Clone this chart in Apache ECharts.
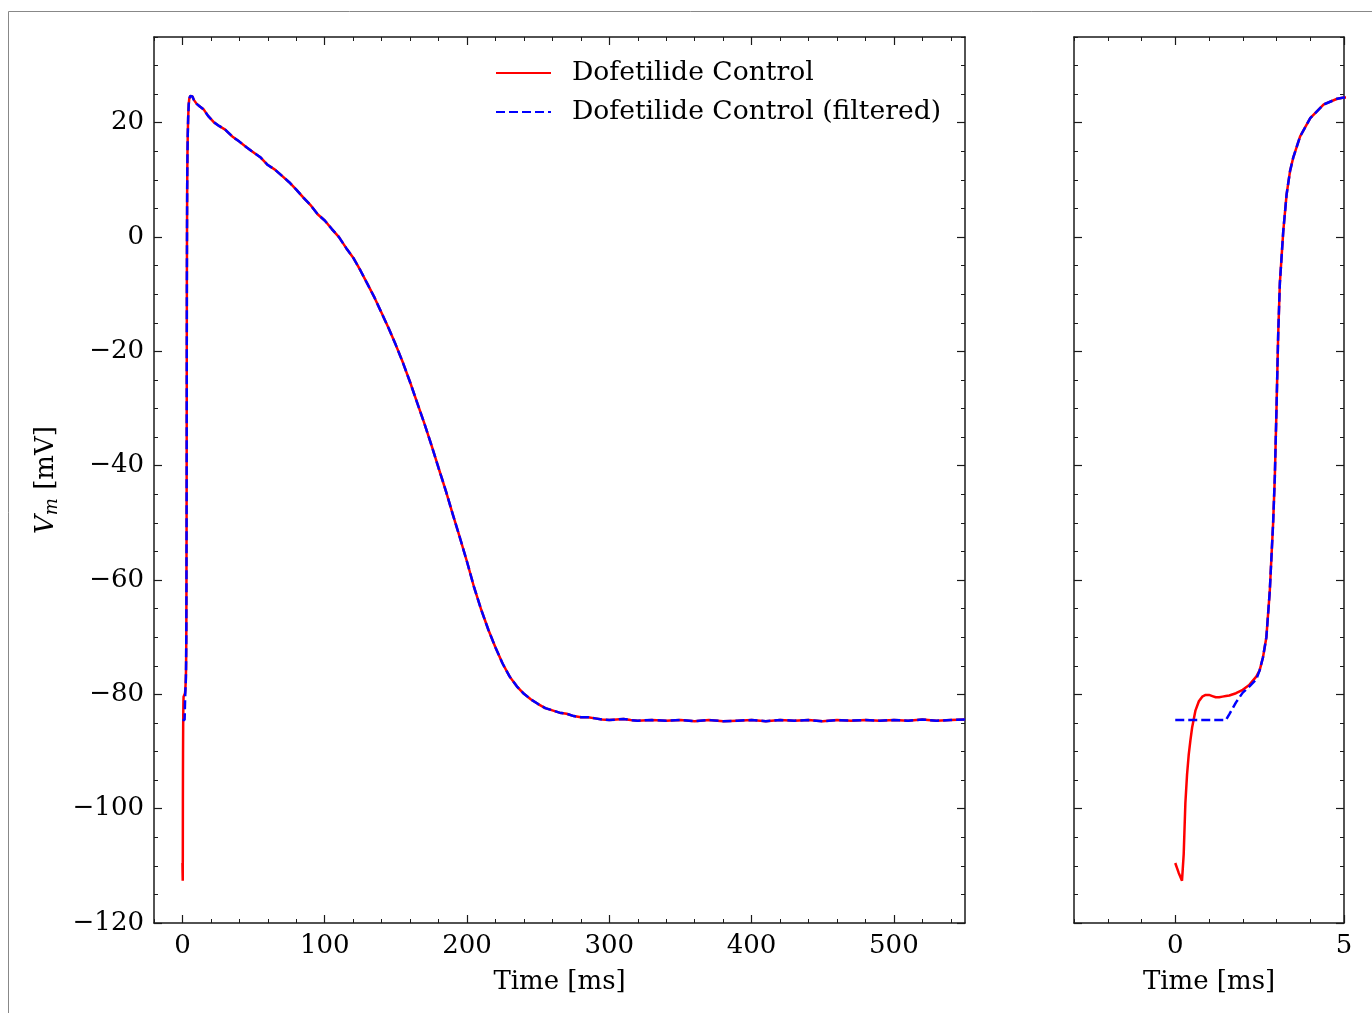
<!DOCTYPE html>
<html>
<head>
<meta charset="utf-8">
<script src="https://cdn.jsdelivr.net/npm/echarts@6/dist/echarts.min.js"></script>
<style>html,body{margin:0;padding:0;background:#fff}#c{width:1372px;height:1013px}</style>
</head>
<body>
<div id="c"></div>
<script>
// ---- data ----
const timeMs = [0,0.1,0.2,0.25,0.3,0.35,0.4,0.45,0.5,0.6,0.7,0.8,0.9,1.0,1.1,1.2,1.3,1.4,1.5,1.6,1.8,2.0,2.2,2.4,2.5,2.6,2.7,2.8,2.9,2.95,3.0,3.05,3.1,3.2,3.3,3.4,3.5,3.7,4.0,4.4,4.8,5.0,5.5,6.3,7,8,10,12,15,18,22,26,30,35,40,45,50,55,60,65,70,75,80,85,90,95,100,105,110,115,120,125,130,135,140,145,150,155,160,165,170,175,180,185,190,195,200,205,210,215,220,225,230,235,240,245,250,255,260,265,270,275,280,285,290,295,300,305,310,315,320,330,340,350,360,370,380,390,400,410,420,430,440,450,460,470,480,490,500,510,520,530,540,550];
const vmControl = [-109.5,-111.2,-112.6,-108,-99,-94,-90.5,-88,-85.8,-82.8,-81.2,-80.4,-80.1,-80.1,-80.3,-80.5,-80.5,-80.4,-80.3,-80.2,-79.8,-79.2,-78.3,-76.9,-75.8,-73.5,-70,-62,-50,-42,-30,-17,-8,1,7.5,11.5,14,17.6,20.8,23.2,24.2,24.4,24.7,24.9,24.6,24.0,23.3,22.9,22.3,21.2,20.1,19.4,18.8,17.6,16.7,15.7,14.8,13.9,12.6,11.8,10.7,9.6,8.3,6.9,5.6,4.0,2.9,1.4,0.0,-1.9,-3.6,-5.8,-8.2,-10.6,-13.3,-16.0,-18.9,-22.0,-25.4,-29.0,-32.6,-36.4,-40.4,-44.3,-48.5,-52.6,-56.8,-61.3,-65.2,-68.7,-71.8,-74.6,-76.9,-78.6,-79.9,-80.9,-81.7,-82.4,-82.8,-83.2,-83.4,-83.8,-84.0,-84.0,-84.2,-84.4,-84.5,-84.4,-84.3,-84.5,-84.6,-84.5,-84.6,-84.5,-84.7,-84.5,-84.7,-84.6,-84.5,-84.7,-84.5,-84.6,-84.5,-84.7,-84.5,-84.6,-84.5,-84.6,-84.5,-84.6,-84.4,-84.6,-84.5,-84.4];
const vmFiltered = [-84.5,-84.5,-84.5,-84.5,-84.5,-84.5,-84.5,-84.5,-84.5,-84.5,-84.5,-84.5,-84.5,-84.5,-84.5,-84.5,-84.5,-84.5,-84.5,-83.5,-81.4,-79.7,-78.6,-77.4,-75.8,-73.5,-70,-62,-50,-42,-30,-17,-8,1,7.5,11.5,14,17.6,20.8,23.2,24.2,24.4,24.7,24.9,24.6,24.0,23.3,22.9,22.3,21.2,20.1,19.4,18.8,17.6,16.7,15.7,14.8,13.9,12.6,11.8,10.7,9.6,8.3,6.9,5.6,4.0,2.9,1.4,0.0,-1.9,-3.6,-5.8,-8.2,-10.6,-13.3,-16.0,-18.9,-22.0,-25.4,-29.0,-32.6,-36.4,-40.4,-44.3,-48.5,-52.6,-56.8,-61.3,-65.2,-68.7,-71.8,-74.6,-76.9,-78.6,-79.9,-80.9,-81.7,-82.4,-82.8,-83.2,-83.4,-83.8,-84.0,-84.0,-84.2,-84.4,-84.5,-84.4,-84.3,-84.5,-84.6,-84.5,-84.6,-84.5,-84.7,-84.5,-84.7,-84.6,-84.5,-84.7,-84.5,-84.6,-84.5,-84.7,-84.5,-84.6,-84.5,-84.6,-84.5,-84.6,-84.4,-84.6,-84.5,-84.4];
const seriesNames = ['Dofetilide Control', 'Dofetilide Control (filtered)'];
const leftXTicks = [0,100,200,300,400,500];
const rightXTicks = [0,5];
const yTicks = [-120,-100,-80,-60,-40,-20,0,20];

// ---- helpers ----
const FONT = 'DejaVu Serif';
const INK = '#1a1a1a';
function range(a, b, s){ const r=[]; for(let v=a; v<=b+1e-9; v+=s) r.push(+v.toFixed(6)); return r; }
function fmt(v){ return String(v).replace('-', '\u2212'); }
const leftXMinor = range(-20, 540, 20);
const rightXMinor = range(-3, 5, 1);
const yMinor = range(-120, 35, 5);

function line(show){ return {show:show, onZero:false, lineStyle:{color:INK, width:1.5}}; }
function xAxes(grid, min, max, major, minor){
  const base = {type:'value', gridIndex:grid, min:min, max:max, splitLine:{show:false}};
  return [
    Object.assign({}, base, {position:'bottom',
      axisLine:line(true),
      axisTick:{show:true, inside:true, length:8, customValues:major, lineStyle:{color:INK, width:1.2}},
      axisLabel:{show:true, customValues:major, formatter:fmt, margin:10, color:'#000', fontFamily:FONT, fontSize:26},
      name:'Time [ms]', nameLocation:'middle', nameGap:46,
      nameTextStyle:{fontFamily:FONT, fontSize:26, color:'#000'}}),
    Object.assign({}, base, {position:'bottom',
      axisLine:line(false),
      axisTick:{show:true, inside:true, length:4, customValues:minor, lineStyle:{color:INK, width:1}},
      axisLabel:{show:false}}),
    Object.assign({}, base, {position:'top',
      axisLine:line(true),
      axisTick:{show:true, inside:true, length:8, customValues:major, lineStyle:{color:INK, width:1.2}},
      axisLabel:{show:false}}),
    Object.assign({}, base, {position:'top',
      axisLine:line(false),
      axisTick:{show:true, inside:true, length:4, customValues:minor, lineStyle:{color:INK, width:1}},
      axisLabel:{show:false}})
  ];
}
function yAxes(grid, showLabels){
  const base = {type:'value', gridIndex:grid, min:-120, max:35, splitLine:{show:false}};
  const main = Object.assign({}, base, {position:'left',
      axisLine:line(true),
      axisTick:{show:true, inside:true, length:8, customValues:yTicks, lineStyle:{color:INK, width:1.2}},
      axisLabel:{show:showLabels, customValues:yTicks, formatter:fmt, margin:10, color:'#000', fontFamily:FONT, fontSize:26}});
  if (showLabels) {
    main.name = '{i|V}{s|m} [mV]';
    main.nameLocation = 'middle';
    main.nameGap = 93;
    main.nameRotate = 90;
    main.nameTextStyle = {fontFamily:FONT, fontSize:26, color:'#000',
      rich:{i:{fontFamily:FONT, fontStyle:'italic', fontSize:26, color:'#000'},
            s:{fontFamily:FONT, fontStyle:'italic', fontSize:18, color:'#000', verticalAlign:'bottom', padding:[12,0,0,0]}}};
  }
  return [
    main,
    Object.assign({}, base, {position:'left', axisLine:line(false),
      axisTick:{show:true, inside:true, length:4, customValues:yMinor, lineStyle:{color:INK, width:1}},
      axisLabel:{show:false}}),
    Object.assign({}, base, {position:'right', axisLine:line(true),
      axisTick:{show:true, inside:true, length:8, customValues:yTicks, lineStyle:{color:INK, width:1.2}},
      axisLabel:{show:false}}),
    Object.assign({}, base, {position:'right', axisLine:line(false),
      axisTick:{show:true, inside:true, length:4, customValues:yMinor, lineStyle:{color:INK, width:1}},
      axisLabel:{show:false}})
  ];
}
const redPts = timeMs.map((t,i)=>[t, vmControl[i]]);
const bluePts = timeMs.map((t,i)=>[t, vmFiltered[i]]);
function ser(name, data, xi, yi, color, dashed){
  return {type:'line', name:name, data:data, xAxisIndex:xi, yAxisIndex:yi, symbol:'none', showSymbol:false,
    animation:false, clip:true, z: dashed?3:2,
    lineStyle:{color:color, width:2.5, type: dashed?[9,4]:'solid'}, itemStyle:{color:color}};
}

const chart = echarts.init(document.getElementById('c'), null, {renderer:'canvas'});
chart.setOption({
  backgroundColor:'#fff',
  animation:false,
  graphic:[{type:'rect', shape:{x:8.5, y:11.5, width:1500, height:1200}, style:{fill:'none', stroke:'#888', lineWidth:1}, silent:true, z:-10}],
  grid:[
    {left:154, top:37, width:811, height:886},
    {left:1074, top:37, width:270, height:886}
  ],
  xAxis: xAxes(0, -20, 550, leftXTicks, leftXMinor).concat(xAxes(1, -3, 5, rightXTicks, rightXMinor)),
  yAxis: yAxes(0, true).concat(yAxes(1, false)),
  legend:{show:true, data:seriesNames, orient:'vertical', left:495, top:58, padding:0, itemWidth:55, itemHeight:14, itemGap:9,
    itemStyle:{opacity:0},
    textStyle:{fontFamily:FONT, fontSize:26.6, color:'#000', lineHeight:30, padding:[0,0,0,16]}},
  series:[
    ser(seriesNames[0], redPts, 0, 0, '#ff0000', false),
    ser(seriesNames[1], bluePts, 0, 0, '#0000ff', true),
    ser(seriesNames[0], redPts, 4, 4, '#ff0000', false),
    ser(seriesNames[1], bluePts, 4, 4, '#0000ff', true)
  ]
});
</script>
</body>
</html>
